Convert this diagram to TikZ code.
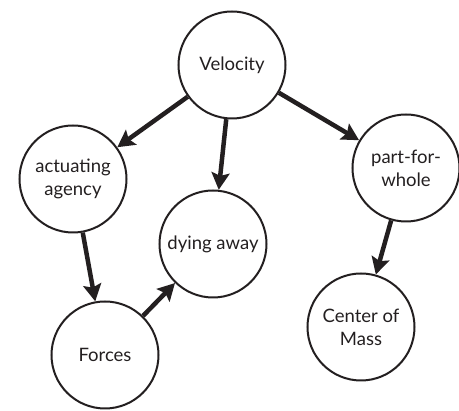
\documentclass[tikz,border=0pt]{standalone}
\usepackage{fontspec}
\setmainfont{Lato}
\usetikzlibrary{arrows.meta}
\definecolor{ink}{HTML}{231F20}
\begin{document}
\begin{tikzpicture}[x=1pt,y=-1pt,
  concept/.style={circle,draw=ink,line width=2pt,minimum size=107pt,inner sep=0pt,
    align=center,text=ink,font=\fontsize{18.5}{23}\selectfont},
  link/.style={draw=ink,line width=4.5pt,-{Stealth[length=17pt,width=18pt,inset=3pt]}}]
\useasboundingbox (0,0) rectangle (459,411);
\node[concept] (vel) at (232,65) {Velocity};
\node[concept] (act) at (73,179) {actuating\\agency};
\node[concept] (dye) at (213,244) {dying away};
\node[concept] (frc) at (105,355) {Forces};
\node[concept] (pfw) at (406,168) {part-for-\\whole};
\node[concept] (com) at (361,327) {Center of\\Mass};
\draw[link] (vel) -- (act);
\draw[link] (vel) -- (dye);
\draw[link] (vel) -- (pfw);
\draw[link] (act) -- (frc);
\draw[link] (frc) -- (dye);
\draw[link] (pfw) -- (com);
\end{tikzpicture}
\end{document}
